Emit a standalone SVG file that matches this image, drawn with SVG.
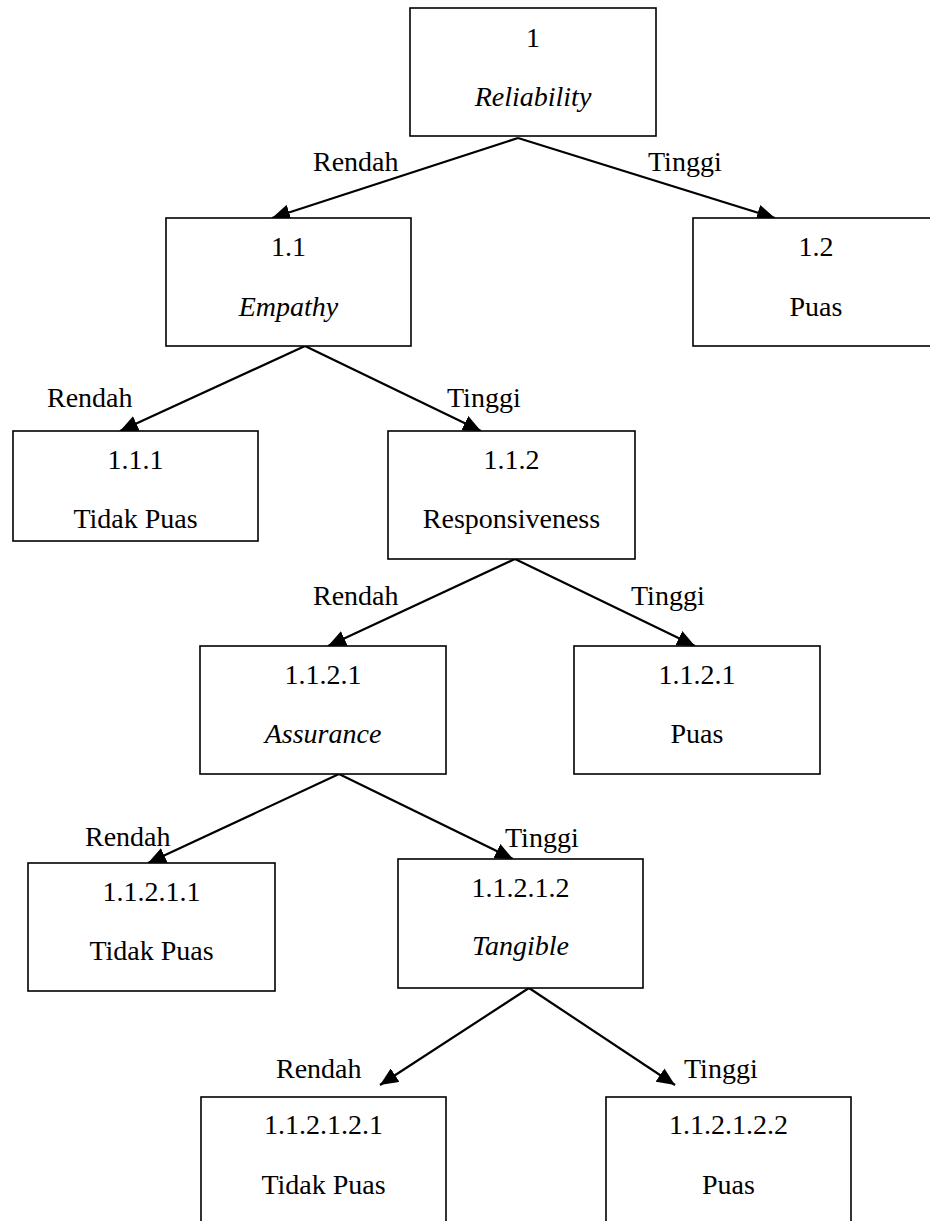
<svg xmlns="http://www.w3.org/2000/svg" width="930" height="1221" viewBox="0 0 930 1221">
<style>
  .box { fill: #ffffff; stroke: #000000; stroke-width: 1.6; }
  text { font-family: 'Liberation Serif', Tinos, 'Times New Roman', 'DejaVu Serif', serif; font-size: 28px; fill: #000000; }
  .t { text-anchor: middle; }
  .i { font-style: italic; }
  .edge { stroke: #000000; stroke-width: 2.2; fill: none; marker-end: url(#arr); }
</style>
<defs>
  <marker id="arr" markerUnits="userSpaceOnUse" markerWidth="19" markerHeight="16" refX="18" refY="8" orient="auto">
    <path d="M0,0 L18,8 L0,16 z" fill="#000000"/>
  </marker>
</defs>
<rect width="930" height="1221" fill="#ffffff"/>

<g id="connectors">
  <line class="edge" x1="518" y1="138" x2="272" y2="218"/>
  <line class="edge" x1="518" y1="138" x2="775" y2="218"/>
  <line class="edge" x1="305" y1="346" x2="120" y2="431"/>
  <line class="edge" x1="305" y1="346" x2="481" y2="431"/>
  <line class="edge" x1="515" y1="559" x2="328" y2="646"/>
  <line class="edge" x1="515" y1="559" x2="695" y2="646"/>
  <line class="edge" x1="339" y1="774" x2="148" y2="863"/>
  <line class="edge" x1="339" y1="774" x2="513" y2="859"/>
  <line class="edge" x1="529" y1="988" x2="380" y2="1085"/>
  <line class="edge" x1="529" y1="988" x2="675" y2="1085"/>
</g>

<g id="labels">
  <text font-family="Liberation Serif, serif" x="313" y="171">Rendah</text>
  <text font-family="Liberation Serif, serif" x="648" y="171">Tinggi</text>
  <text font-family="Liberation Serif, serif" x="47" y="407">Rendah</text>
  <text font-family="Liberation Serif, serif" x="447" y="407">Tinggi</text>
  <text font-family="Liberation Serif, serif" x="313" y="605">Rendah</text>
  <text font-family="Liberation Serif, serif" x="631" y="605">Tinggi</text>
  <text font-family="Liberation Serif, serif" x="85" y="846">Rendah</text>
  <text font-family="Liberation Serif, serif" x="505" y="847">Tinggi</text>
  <text font-family="Liberation Serif, serif" x="276" y="1078">Rendah</text>
  <text font-family="Liberation Serif, serif" x="684" y="1078">Tinggi</text>
</g>

<g id="n1">
  <rect class="box" x="410" y="8" width="246" height="128"/>
  <text class="t" x="533" y="47">1</text>
  <text class="t i" x="533" y="106">Reliability</text>
</g>
<g id="n1_1">
  <rect class="box" x="166" y="218" width="245" height="128"/>
  <text class="t" x="288.5" y="256">1.1</text>
  <text class="t i" x="288.5" y="316">Empathy</text>
</g>
<g id="n1_2">
  <rect class="box" x="693" y="218" width="246" height="128"/>
  <text class="t" x="816" y="256">1.2</text>
  <text class="t" x="816" y="316">Puas</text>
</g>
<g id="n1_1_1">
  <rect class="box" x="13" y="431" width="245" height="110"/>
  <text class="t" x="135.5" y="469">1.1.1</text>
  <text class="t" x="135.5" y="528">Tidak Puas</text>
</g>
<g id="n1_1_2">
  <rect class="box" x="388" y="431" width="247" height="128"/>
  <text class="t" x="511.5" y="469">1.1.2</text>
  <text class="t" x="511.5" y="528">Responsiveness</text>
</g>
<g id="n1_1_2_1a">
  <rect class="box" x="200" y="646" width="246" height="128"/>
  <text class="t" x="323" y="684">1.1.2.1</text>
  <text class="t i" x="323" y="743">Assurance</text>
</g>
<g id="n1_1_2_1b">
  <rect class="box" x="574" y="646" width="246" height="128"/>
  <text class="t" x="697" y="684">1.1.2.1</text>
  <text class="t" x="697" y="743">Puas</text>
</g>
<g id="n1_1_2_1_1">
  <rect class="box" x="28" y="863" width="247" height="128"/>
  <text class="t" x="151.5" y="901">1.1.2.1.1</text>
  <text class="t" x="151.5" y="960">Tidak Puas</text>
</g>
<g id="n1_1_2_1_2">
  <rect class="box" x="398" y="859" width="245" height="129"/>
  <text class="t" x="520.5" y="897">1.1.2.1.2</text>
  <text class="t i" x="520.5" y="955">Tangible</text>
</g>
<g id="n1_1_2_1_2_1">
  <rect class="box" x="201" y="1097" width="245" height="140"/>
  <text class="t" x="323.5" y="1134">1.1.2.1.2.1</text>
  <text class="t" x="323.5" y="1194">Tidak Puas</text>
</g>
<g id="n1_1_2_1_2_2">
  <rect class="box" x="606" y="1097" width="245" height="140"/>
  <text class="t" x="728.5" y="1134">1.1.2.1.2.2</text>
  <text class="t" x="728.5" y="1194">Puas</text>
</g>
</svg>
